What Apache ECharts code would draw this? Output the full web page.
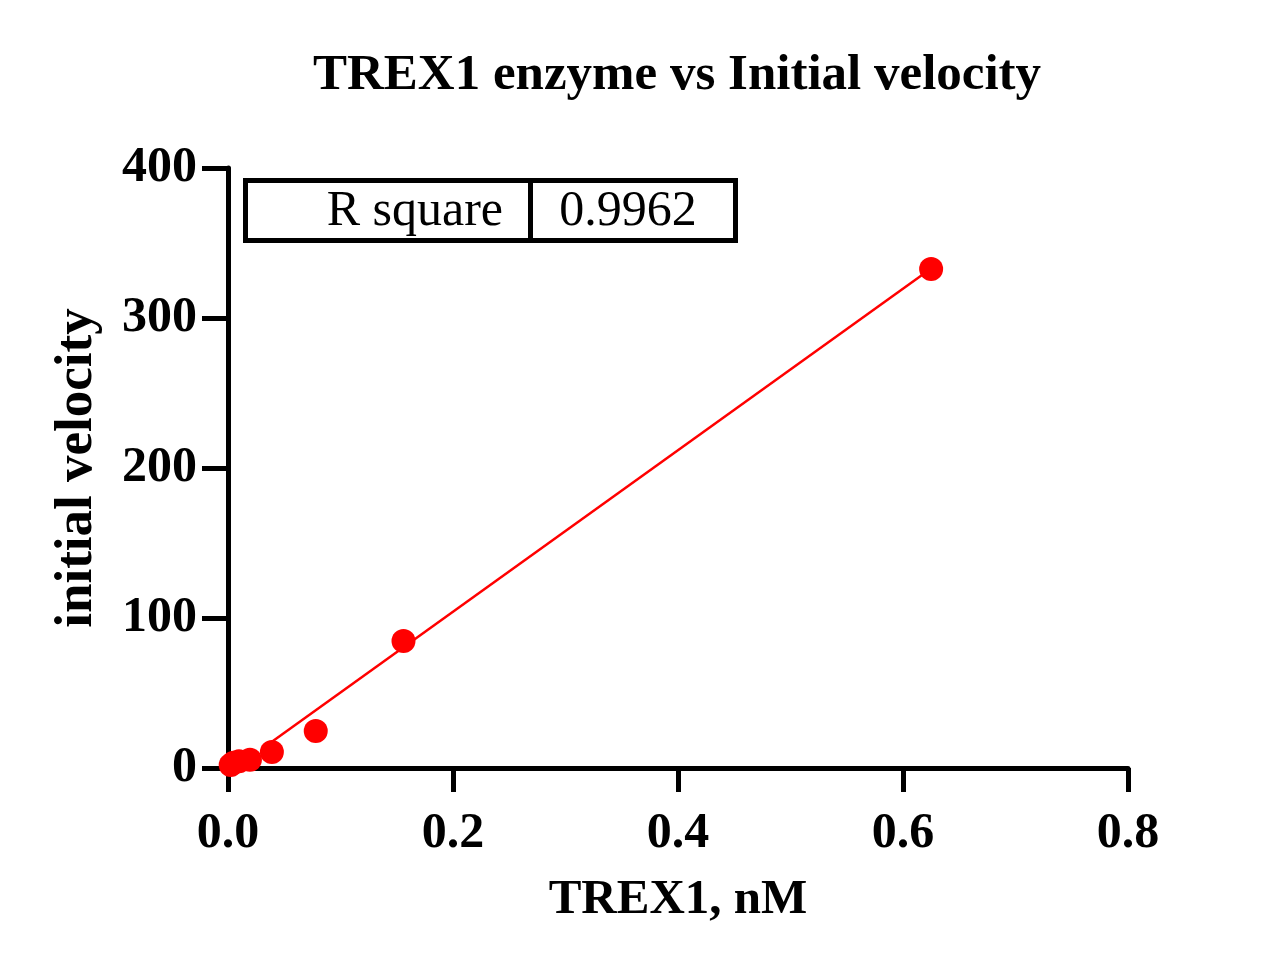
<!DOCTYPE html>
<html>
<head>
<meta charset="utf-8">
<script src="https://cdn.jsdelivr.net/npm/echarts@6/dist/echarts.min.js"></script>
<style>
html,body{margin:0;padding:0;background:#fff;}
#main{width:1280px;height:972px;}
</style>
</head>
<body>
<div id="main"></div>
<script>
// Data
const trex1_nM = [0.0024, 0.0049, 0.0098, 0.0195, 0.039, 0.078, 0.156, 0.625];
const initialVelocity = [2, 3.5, 4.5, 5.5, 10.7, 24.7, 84.7, 332.7];
const fitX = [0.039, 0.625];
const fitY = [17.5, 333];
const rSquareLabel = 'R square';
const rSquareValue = '0.9962';
const titleText = 'TREX1 enzyme vs Initial velocity';
const xName = 'TREX1, nM';
const yName = 'initial velocity';

const FONT = '"Liberation Serif", "Times New Roman", serif';

const chart = echarts.init(document.getElementById('main'), null, {renderer: 'canvas'});

const option = {
  backgroundColor: '#ffffff',
  animation: false,
  title: {
    text: titleText,
    left: 313,
    top: 50,
    padding: 0,
    textStyle: {fontFamily: FONT, fontWeight: 'bold', fontSize: 51, color: '#000'}
  },
  grid: {left: 228, right: 152, top: 168, bottom: 204, containLabel: false},
  xAxis: {
    type: 'value',
    min: 0, max: 0.8, interval: 0.2,
    name: xName,
    nameLocation: 'middle',
    nameGap: 108,
    nameTextStyle: {fontFamily: FONT, fontWeight: 'bold', fontSize: 49, color: '#000'},
    axisLine: {show: true, onZero: false, lineStyle: {color: '#000', width: 5}},
    axisTick: {show: true, inside: false, length: 24, lineStyle: {color: '#000', width: 5}},
    axisLabel: {
      margin: 41,
      fontFamily: FONT, fontWeight: 'bold', fontSize: 50, color: '#000',
      formatter: v => v.toFixed(1)
    },
    splitLine: {show: false}
  },
  yAxis: {
    type: 'value',
    min: 0, max: 400, interval: 100,
    name: yName,
    nameLocation: 'middle',
    nameGap: 124,
    nameRotate: 90,
    nameTextStyle: {fontFamily: FONT, fontWeight: 'bold', fontSize: 53, color: '#000'},
    axisLine: {show: true, onZero: false, lineStyle: {color: '#000', width: 5}},
    axisTick: {show: true, inside: false, length: 26, lineStyle: {color: '#000', width: 5}},
    axisLabel: {
      margin: 31,
      fontFamily: FONT, fontWeight: 'bold', fontSize: 50, color: '#000'
    },
    splitLine: {show: false}
  },
  series: [
    {
      type: 'line',
      data: fitX.map((x, i) => [x, fitY[i]]),
      showSymbol: false,
      symbol: 'none',
      lineStyle: {color: '#ff0000', width: 2.5},
      z: 3,
      silent: true
    },
    {
      type: 'scatter',
      data: trex1_nM.map((x, i) => [x, initialVelocity[i]]),
      symbol: 'circle',
      symbolSize: 24,
      itemStyle: {color: '#ff0000', opacity: 1},
      clip: false,
      z: 4
    }
  ],
  graphic: [
    {
      type: 'group',
      z: 10,
      children: [
        {type: 'rect', shape: {x: 245.5, y: 180.5, width: 490, height: 60}, style: {fill: '#fff', stroke: '#000', lineWidth: 5}},
        {type: 'line', shape: {x1: 530.5, y1: 180.5, x2: 530.5, y2: 240.5}, style: {stroke: '#000', lineWidth: 5}},
        {type: 'text', x: 503, y: 212, style: {text: rSquareLabel, align: 'right', verticalAlign: 'middle', font: 'normal 50px ' + FONT, fill: '#000'}},
        {type: 'text', x: 628, y: 212, style: {text: rSquareValue, align: 'center', verticalAlign: 'middle', font: 'normal 50px ' + FONT, fill: '#000'}}
      ]
    }
  ]
};

chart.setOption(option);
</script>
</body>
</html>
